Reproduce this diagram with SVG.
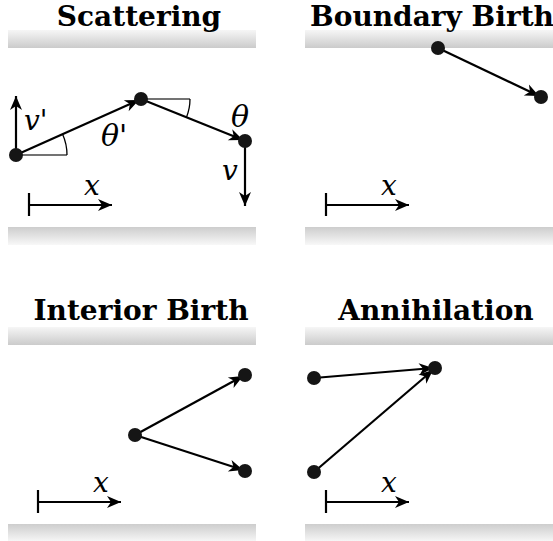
<svg xmlns="http://www.w3.org/2000/svg" width="553" height="541" viewBox="0 0 553 541">
<defs>
<linearGradient id="gTop" x1="0" y1="0" x2="0" y2="1">
<stop offset="0" stop-color="#f6f6f6"/><stop offset="1" stop-color="#cbcbcb"/>
</linearGradient>
<linearGradient id="gBot" x1="0" y1="0" x2="0" y2="1">
<stop offset="0" stop-color="#cdcdcd"/><stop offset="1" stop-color="#f8f8f8"/>
</linearGradient>
<linearGradient id="gDash" x1="0" y1="0" x2="1" y2="0">
<stop offset="0" stop-color="#555"/><stop offset="1" stop-color="#e4e4e4"/>
</linearGradient>
<marker id="ah" markerUnits="userSpaceOnUse" markerWidth="17" markerHeight="15" viewBox="-15 -7.5 17 15" refX="0" refY="0" orient="auto">
<path d="M0,0 L-14,-6 L-10,0 L-14,6 Z" fill="#000"/>
</marker>
<g id="walls">
<rect x="8" y="30" width="248" height="18" fill="url(#gTop)"/>
<rect x="8" y="227" width="248" height="18" fill="url(#gBot)"/>
</g>
</defs>
<style>
.title{font-family:"DejaVu Serif",serif;font-weight:bold;font-size:28px;text-anchor:middle;fill:#000}
.math{font-family:"DejaVu Serif",serif;font-style:italic;font-size:28px;fill:#000}
.arr{stroke:#000;stroke-width:2.2;fill:none;marker-end:url(#ah)}
.bar{stroke:#000;stroke-width:2.2;fill:none}
.dot{fill:#151515}
.ref{stroke:#444;stroke-width:1.6;fill:none}
.dash{stroke:url(#gDash);stroke-width:1.6;stroke-dasharray:7 3;fill:none}
.ang{stroke:#000;stroke-width:1.3;fill:none}
</style>

<g id="scattering">
<use href="#walls"/>
<text class="title" x="139" y="26">Scattering</text>
<g id="connectors-scattering">
<line class="ref" x1="16" y1="155" x2="67" y2="155"/>
<line class="dash" x1="67" y1="155" x2="166" y2="155"/>
<line class="ref" x1="141" y1="99" x2="190" y2="99"/>
<line class="dash" x1="190" y1="99" x2="250" y2="99"/>
<path class="ang" d="M67,155 A51,51 0 0 0 62.6,134.2"/>
<path class="ang" d="M190,99 A49,49 0 0 1 186.4,117.4"/>
<line class="arr" x1="16" y1="155" x2="139" y2="100"/>
<line class="arr" x1="141" y1="99" x2="243" y2="140"/>
<line class="arr" x1="16" y1="155" x2="16" y2="96"/>
<line class="arr" x1="245" y1="141" x2="245" y2="206"/>
<line class="bar" x1="29" y1="193" x2="29" y2="216"/>
<line class="arr" x1="29" y1="205" x2="112" y2="205"/>
</g>
<circle class="dot" cx="16" cy="155" r="7"/>
<circle class="dot" cx="141" cy="99" r="7"/>
<circle class="dot" cx="245" cy="141" r="7"/>
<text class="math" x="24" y="130">v'</text>
<text class="math" x="101" y="146" style="font-size:30px">θ'</text>
<text class="math" x="231" y="127" style="font-size:30px">θ</text>
<text class="math" x="222" y="180">v</text>
<text class="math" x="84" y="195">x</text>
</g>

<g id="boundary-birth" transform="translate(297,0)">
<use href="#walls"/>
<text class="title" x="135" y="26">Boundary Birth</text>
<g id="connectors-boundary">
<line class="arr" x1="141" y1="48" x2="242" y2="96"/>
<line class="bar" x1="29" y1="193" x2="29" y2="216"/>
<line class="arr" x1="29" y1="205" x2="112" y2="205"/>
</g>
<circle class="dot" cx="141" cy="48" r="7"/>
<circle class="dot" cx="244" cy="97" r="7"/>
<text class="math" x="84" y="195">x</text>
</g>

<g id="interior-birth" transform="translate(0,297)">
<use href="#walls"/>
<text class="title" x="141" y="23">Interior Birth</text>
<g id="connectors-interior">
<line class="arr" x1="135" y1="138" x2="243" y2="79"/>
<line class="arr" x1="135" y1="138" x2="243" y2="173"/>
<line class="bar" x1="38" y1="193" x2="38" y2="216"/>
<line class="arr" x1="38" y1="205" x2="121" y2="205"/>
</g>
<circle class="dot" cx="135" cy="138" r="7"/>
<circle class="dot" cx="245" cy="78" r="7"/>
<circle class="dot" cx="245" cy="174" r="7"/>
<text class="math" x="93" y="195">x</text>
</g>

<g id="annihilation" transform="translate(297,297)">
<use href="#walls"/>
<text class="title" x="139" y="23">Annihilation</text>
<g id="connectors-annihilation">
<line class="arr" x1="17" y1="81" x2="136" y2="71"/>
<line class="arr" x1="17" y1="175" x2="136" y2="73"/>
<line class="bar" x1="29" y1="193" x2="29" y2="216"/>
<line class="arr" x1="29" y1="205" x2="112" y2="205"/>
</g>
<circle class="dot" cx="17" cy="81" r="7"/>
<circle class="dot" cx="138" cy="71" r="7"/>
<circle class="dot" cx="17" cy="175" r="7"/>
<text class="math" x="84" y="195">x</text>
</g>
</svg>
